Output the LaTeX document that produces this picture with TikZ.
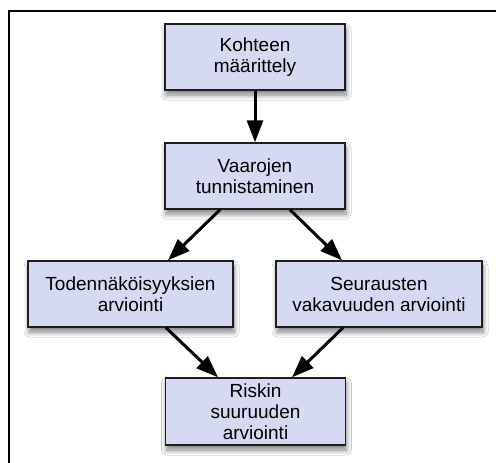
\documentclass[tikz,border=0pt]{standalone}
\usepackage{fontspec}
\setmainfont{Liberation Sans}
\usetikzlibrary{arrows.meta,calc,shadows.blur}
\definecolor{boxfill}{RGB}{213,218,242}
\definecolor{boxline}{RGB}{30,30,30}
\tikzset{
  stepbox/.style={draw=boxline, line width=1.4pt, fill=boxfill, align=center,
    font=\fontsize{19}{21}\selectfont, inner sep=0pt, minimum height=66pt,
    blur shadow={shadow xshift=1pt, shadow yshift=-5pt, shadow blur radius=5pt, shadow blur steps=10, shadow opacity=50}},
  flow/.style={line width=3pt, -{Triangle[length=22pt,width=16pt]}},
}
\begin{document}
\begin{tikzpicture}[x=1pt,y=-1pt]
\useasboundingbox (0,0) rectangle (496,463);
\fill[white] (0,0) rectangle (496,463);
\coordinate (fl) at (9,463);
\coordinate (fc) at (9,10.5);
\coordinate (fr) at (496,10.5);
\draw[line width=2pt] (fl) -- (fc) -- (fr);
\node[stepbox, minimum width=180pt] (k) at (255,57) {Kohteen\\määrittely};
\node[stepbox, minimum width=180pt] (v) at (255,176) {Vaarojen\\tunnistaminen};
\node[stepbox, minimum width=205pt] (t) at (130.5,294) {Todennäköisyyksien\\arviointi};
\node[stepbox, minimum width=206pt] (s) at (379,294) {Seurausten\\vakavuuden arviointi};
\node[stepbox, minimum width=180pt, minimum height=67pt] (r) at (255.5,411.5) {Riskin\\suuruuden\\arviointi};
\draw[flow] (k.south) -- (v.north);
\draw[flow] ($(v.south)+(-35,0)$) -- ($(t.north)+(37.5,0)$);
\draw[flow] ($(v.south)+(35,0)$) -- ($(s.north)+(-37,0)$);
\draw[flow] ($(t.south)+(35.5,0)$) -- ($(r.north)+(-37.5,0)$);
\draw[flow] ($(s.south)+(-36,0)$) -- ($(r.north)+(36.5,0)$);
\end{tikzpicture}
\end{document}
